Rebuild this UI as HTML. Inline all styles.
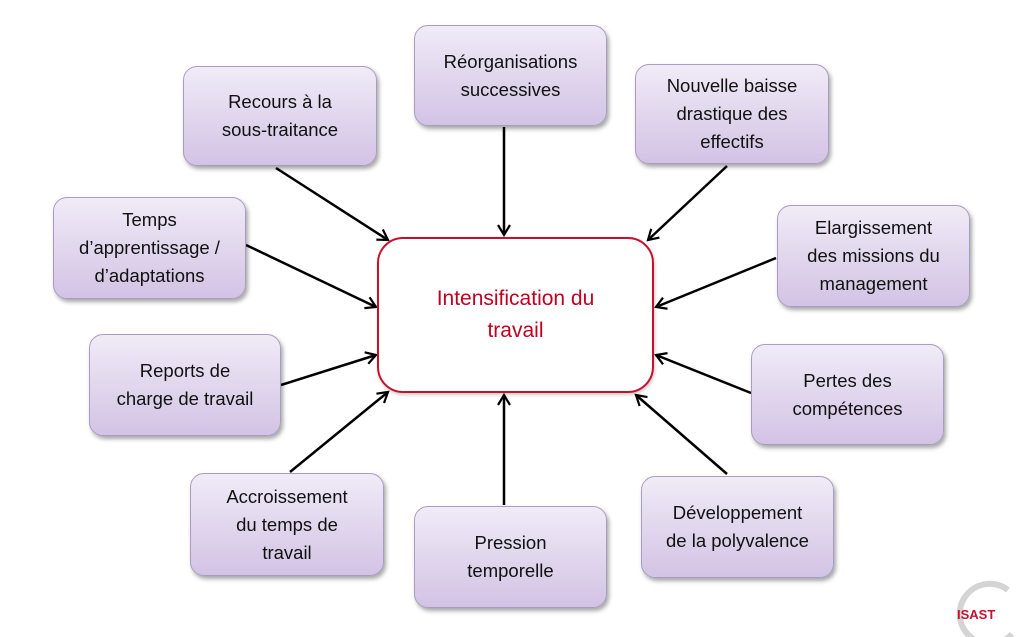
<!DOCTYPE html>
<html><head><meta charset="utf-8"><style>
html,body{margin:0;padding:0;background:#fff;}
body{width:1032px;height:637px;position:relative;overflow:hidden;font-family:"Liberation Sans",sans-serif;}
.b{position:absolute;box-sizing:border-box;border:1.5px solid #a99cc2;border-radius:14px;
background:linear-gradient(#f1ebf7,#d2c3e4);box-shadow:2px 3px 4px rgba(0,0,0,.35);
display:flex;align-items:center;justify-content:center;text-align:center;font-size:18.5px;line-height:28px;color:#111;}
.c{position:absolute;left:377px;top:237px;width:277px;height:156px;box-sizing:border-box;border:2px solid #c8102e;border-radius:26px;background:#fff;
display:flex;align-items:center;justify-content:center;text-align:center;color:#c00020;font-size:21px;line-height:32px;box-shadow:1px 2px 3px rgba(0,0,0,.2);}
svg{position:absolute;left:0;top:0;}
</style></head><body>
<svg width="1032" height="637">
<defs><marker id="a" markerWidth="14" markerHeight="14" refX="11" refY="7" orient="auto" markerUnits="userSpaceOnUse">
<path d="M1,1 L11,7 L1,13" fill="none" stroke="#000" stroke-width="2.2"/></marker></defs>
<g stroke="#000" stroke-width="2.5" marker-end="url(#a)">
<line x1="276" y1="168" x2="388" y2="240"/>
<line x1="504" y1="127" x2="504" y2="235"/>
<line x1="727" y1="166" x2="648" y2="240"/>
<line x1="246" y1="245" x2="376" y2="307"/>
<line x1="776" y1="258" x2="656" y2="307"/>
<line x1="281" y1="385" x2="376" y2="355"/>
<line x1="751" y1="393" x2="656" y2="355"/>
<line x1="290" y1="472" x2="388" y2="392"/>
<line x1="504" y1="505" x2="504" y2="395"/>
<line x1="727" y1="474" x2="636" y2="395"/>
</g>
<path d="M1008,590 A30,30 0 1,0 1012,634" fill="none" stroke="#d4d4d4" stroke-width="6"/>
<text x="957" y="619" font-family="Liberation Sans" font-weight="bold" font-size="13" fill="#c8102e">ISAST</text>
</svg>
<div class="b" style="left:183px;top:66px;width:194px;height:100px">Recours à la<br>sous-traitance</div>
<div class="b" style="left:414px;top:25px;width:193px;height:101px">Réorganisations<br>successives</div>
<div class="b" style="left:635px;top:64px;width:194px;height:100px">Nouvelle baisse<br>drastique des<br>effectifs</div>
<div class="b" style="left:53px;top:197px;width:193px;height:102px">Temps<br>d’apprentissage /<br>d’adaptations</div>
<div class="b" style="left:777px;top:205px;width:193px;height:102px">Elargissement<br>des missions du<br>management</div>
<div class="b" style="left:89px;top:334px;width:192px;height:102px">Reports de<br>charge de travail</div>
<div class="b" style="left:751px;top:344px;width:193px;height:101px">Pertes des<br>compétences</div>
<div class="b" style="left:190px;top:473px;width:194px;height:103px">Accroissement<br>du temps de<br>travail</div>
<div class="b" style="left:414px;top:506px;width:193px;height:102px">Pression<br>temporelle</div>
<div class="b" style="left:641px;top:476px;width:193px;height:102px">Développement<br>de la polyvalence</div>
<div class="c">Intensification du<br>travail</div>
</body></html>
